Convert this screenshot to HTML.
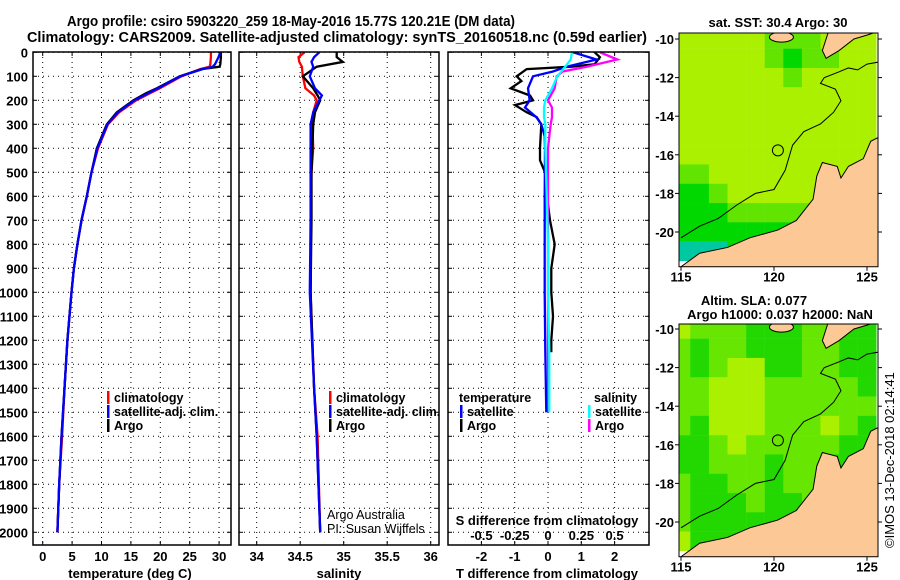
<!DOCTYPE html>
<html><head><meta charset="utf-8"><style>
body{margin:0;background:#fff;}
svg{display:block;font-family:"Liberation Sans",sans-serif;}
.t{font-size:13px;font-weight:bold;fill:#000;}
.ttl{font-size:14.5px;font-weight:bold;fill:#000;}
.lg{font-size:12.5px;font-weight:bold;fill:#000;}
.grid{stroke:#000;stroke-width:1;stroke-dasharray:1,4;fill:none;}
</style></head><body>
<svg id="fig" width="900" height="580" viewBox="0 0 900 580">
<text class="ttl" x="67" y="26" textLength="448" lengthAdjust="spacingAndGlyphs">Argo profile: csiro 5903220_259 18-May-2016 15.77S 120.21E (DM data)</text>
<text class="ttl" x="27" y="42" textLength="620" lengthAdjust="spacingAndGlyphs">Climatology: CARS2009. Satellite-adjusted climatology: synTS_20160518.nc (0.59d earlier)</text>
<g id="g1"></g>
<g id="g2"></g>
<g id="g3"></g>
<g id="m1"></g>
<g id="m2"></g>
<text class="lg" transform="translate(894,548) rotate(-90)" style="font-weight:normal;font-size:13px">©IMOS 13-Dec-2018 02:14:41</text>
</svg>
<script>
// ---------- data ----------
const depthT = [0,20,50,60,70,100,150,170,200,250,300,400,500,600,700,800,900,1000,1200,1400,1600,1800,2000];
const tempArgo = [30.3,30.3,30.2,30.1,27.0,23.3,19.4,17.6,15.4,12.6,10.9,9.2,8.3,7.5,6.6,5.9,5.3,4.9,4.2,3.7,3.2,2.8,2.5];
const tempClim = [28.6,28.6,28.5,28.4,26.8,23.6,19.9,18.3,15.9,13.0,11.1,9.4,8.3,7.5,6.6,5.9,5.3,4.9,4.2,3.7,3.3,2.8,2.5];
const tempSat  = [30.2,29.9,29.3,28.9,27.2,23.4,19.6,18.0,15.6,12.8,11.0,9.3,8.3,7.5,6.6,5.9,5.3,4.9,4.2,3.7,3.2,2.8,2.5];
const depthS = [0,20,40,60,100,150,180,200,250,300,400,500,700,1000,1400,1600,2000];
const salArgo = [34.92,34.92,34.99,34.69,34.53,34.65,34.70,34.73,34.67,34.65,34.64,34.63,34.63,34.62,34.66,34.69,34.73];
const salClim = [34.55,34.48,34.49,34.52,34.53,34.56,34.66,34.69,34.65,34.64,34.65,34.63,34.62,34.62,34.66,34.70,34.73];
const salSat  = [34.72,34.66,34.63,34.65,34.61,34.67,34.75,34.72,34.65,34.62,34.62,34.62,34.62,34.61,34.66,34.69,34.73];
const depthD = [0,20,50,60,70,100,120,150,180,200,220,250,270,300,400,450,500,600,700,800,900,1000,1100,1200,1250];
const dTArgo = [1.4,1.56,1.4,0.7,-0.64,-0.94,-0.8,-1.12,-0.54,-0.45,-0.99,-0.64,-0.34,-0.2,-0.24,-0.24,-0.09,-0.03,0.06,0.2,0.1,0.1,0.15,0.1,0.1];
const depthD2 = [0,30,60,80,100,150,200,230,270,300,350,400,600,800,1000,1250,1500];
const dTSat = [0.75,1.46,0.56,0.15,-0.45,-0.6,-0.55,-0.69,-0.35,-0.2,-0.1,-0.09,-0.1,-0.1,-0.1,-0.08,-0.05];
const dSArgo = [0.39,0.52,0.29,0.11,0.065,0.05,0.0,0.03,0.03,0.02,0.01,0.0,0.0,0.0,0.0,0.0,0.0];
const dSSat = [0.18,0.17,0.13,0.1,0.07,0.03,-0.02,-0.03,-0.03,-0.02,-0.02,-0.02,-0.01,0.0,0.0,0.01,0.01];
const depthTicks = [0,100,200,300,400,500,600,700,800,900,1000,1100,1200,1300,1400,1500,1600,1700,1800,1900,2000];
const tTicks = [0,5,10,15,20,25,30];
const sTicks = [34,34.5,35,35.5,36];
const sTickLabels = ["34","34.5","35","35.5","36"];
const dTTicks = [-2,-1,0,1,2];
const dSTicks = [-0.5,-0.25,0,0.25,0.5];
const dSTickLabels = ["-0.5","-0.25","0","0.25","0.5"];
const lonTicks = [115,120,125];
const latTicks = [-10,-12,-14,-16,-18,-20];
const sstGrid = [
[0,0,0,0,0,1,1,1,0,0,0],
[0,0,0,0,0,1,2,1,1,0,0],
[0,0,0,0,0,0,1,0,0,0,0],
[0,0,0,0,0,0,0,0,0,0,0],
[0,0,0,0,0,0,0,0,0,0,0],
[0,0,0,0,0,0,0,0,0,0,0],
[0,0,0,0,0,0,0,0,0,0,0],
[1,1,0,0,0,0,0,0,0,0,0],
[2,2,1,0,0,0,0,0,0,0,0],
[2,2,2,1,1,1,1,1,0,0,0],
[2,2,2,2,2,2,2,3,0,0,0],
[3,3,3,2,2,4,0,0,0,0,0]];
const slaGrid = [
[0,1,1,1,2,2,2,1,1,2,2],
[1,2,1,1,2,2,2,1,1,2,2],
[1,2,1,0,0,2,2,1,1,2,2],
[1,1,0,0,0,1,1,1,1,1,2],
[1,1,0,0,0,1,1,1,1,1,1],
[1,2,0,0,0,1,1,1,0,1,2],
[2,2,1,0,1,1,1,1,1,2,2],
[2,2,1,1,1,2,1,1,2,2,2],
[1,2,2,1,1,2,1,1,2,2,2],
[1,2,2,2,1,2,2,1,2,2,2],
[1,2,2,2,2,2,2,2,2,2,2],
[0,2,2,2,2,2,2,2,2,2,2]];
const landLon = [115.0,116.0,117.5,118.7,120.2,121.2,122.1,122.3,122.6,123.4,123.6,124.0,124.8,125.2,125.6,125.6,115.0];
const landLat = [-21.8,-21.1,-20.8,-20.3,-19.9,-19.4,-18.3,-17.1,-16.4,-16.6,-17.2,-16.6,-16.2,-15.3,-15.1,-22.5,-22.5];
const isoLon = [115,116,117,118,119,120,120.6,121,121.6,122.5,123.2,123.6,123.3,122.5,122.7,123.5,124,124.5,125,125.6];
const isoLat = [-20.3,-19.7,-19.3,-18.6,-18.0,-17.8,-16.8,-15.5,-14.8,-14.4,-13.8,-13.2,-12.6,-12.3,-12.0,-11.7,-11.5,-11.6,-11.3,-11.2];
const argoLon = 120.21, argoLat = -15.77;

// ---------- helpers ----------
const NS='http://www.w3.org/2000/svg';
function mk(parent,tag,attrs){const e=document.createElementNS(NS,tag);for(const k in attrs)e.setAttribute(k,attrs[k]);parent.appendChild(e);return e;}
function txt(parent,x,y,s,anchor,cls){const e=mk(parent,'text',{x:x,y:y,'text-anchor':anchor||'middle','class':cls||'t'});e.textContent=s;return e;}
const pTop=52, pBot=545;
const yD = d => 52.3 + d*0.24;
const xT = t => 42.7 + t*5.88;
const xS = s => 256.7 + (s-34)*87;
const xDT = d => 548 + d*33.3;
const xDS = d => 548 + d*133.2;

function frame(g,x0,x1){
  for(const d of depthTicks){const l=mk(g,'line',{x1:x0,x2:x1,y1:yD(d),y2:yD(d),'class':'grid'});
    
    
    mk(g,'line',{x1:x0,x2:x0+4,y1:yD(d),y2:yD(d),stroke:'#000'});mk(g,'line',{x1:x1-4,x2:x1,y1:yD(d),y2:yD(d),stroke:'#000'});}
}
function vgrid(g,xs,fx){for(const v of xs){const x=fx(v);const l=mk(g,'line',{x1:x,x2:x,y1:pTop,y2:pBot,'class':'grid'});
  
  
  mk(g,'line',{x1:x,x2:x,y1:pTop,y2:pTop+4,stroke:'#000'});mk(g,'line',{x1:x,x2:x,y1:pBot-4,y2:pBot,stroke:'#000'});}}
function box(g,x0,x1){const r=mk(g,'rect',{x:x0,y:pTop,width:x1-x0,height:pBot-pTop,fill:'none',stroke:'#000','stroke-width':1.5});
  
  }
function line(g,xs,ds,fx,color,name){const pts=xs.map((v,i)=>fx(v).toFixed(1)+','+yD(ds[i]).toFixed(1)).join(' ');
  const p=mk(g,'polyline',{points:pts,fill:'none',stroke:color,'stroke-width':2.3});
  
  }
function legend(g,x,y,color,label){mk(g,'rect',{x:x,y:y-11,width:2.5,height:13,fill:color});
  const t=txt(g,x+7,y,label,'start','lg');
  
  }
function lab(g,x,y,s,name,anchor,cls){const t=txt(g,x,y,s,anchor,cls);
  
  return t;}

// ---------- panel 1 ----------
const g1=document.getElementById('g1');
frame(g1,33,231);vgrid(g1,tTicks,xT);
for(const d of depthTicks) lab(g1,28,yD(d)+5,String(d),'y-tick-label','end');
for(const v of tTicks) lab(g1,xT(v),561,String(v),'x-tick-label');
line(g1,tempClim,depthT,xT,'#f00','temperature-climatology-line');
line(g1,tempArgo,depthT,xT,'#000','temperature-argo-line');
line(g1,tempSat,depthT,xT,'#00f','temperature-satellite-line');
legend(g1,107,402,'#f00','climatology');legend(g1,107,416,'#00f','satellite-adj. clim.');legend(g1,107,430,'#000','Argo');
box(g1,33,231);
lab(g1,130,578,'temperature (deg C)','x-axis-title');

// ---------- panel 2 ----------
const g2=document.getElementById('g2');
frame(g2,239,439);vgrid(g2,sTicks,xS);
sTicks.forEach((v,i)=>lab(g2,xS(v),561,sTickLabels[i],'x-tick-label'));
line(g2,salClim,depthS,xS,'#f00','salinity-climatology-line');
line(g2,salArgo,depthS,xS,'#000','salinity-argo-line');
line(g2,salSat,depthS,xS,'#00f','salinity-satellite-line');
legend(g2,329,402,'#f00','climatology');legend(g2,329,416,'#00f','satellite-adj. clim.');legend(g2,329,430,'#000','Argo');
lab(g2,327,519,'Argo Australia','credit-text','start','lg').style.fontWeight='normal';
lab(g2,327,533,'PI: Susan Wijffels','pi-text','start','lg').style.fontWeight='normal';
box(g2,239,439);
lab(g2,339,578,'salinity','x-axis-title');

// ---------- panel 3 ----------
const g3=document.getElementById('g3');
frame(g3,448,649);vgrid(g3,dTTicks,xDT);
dTTicks.forEach(v=>lab(g3,xDT(v),561,String(v),'t-diff-tick-label'));
dSTicks.forEach((v,i)=>lab(g3,xDS(v),540,dSTickLabels[i],'s-diff-tick-label'));
lab(g3,547,525,'S difference from climatology','s-diff-axis-title');
line(g3,dTArgo,depthD,xDT,'#000','t-diff-argo-line');
line(g3,dSArgo,depthD2,xDS,'#f0f','s-diff-argo-line');
line(g3,dTSat,depthD2,xDT,'#00f','t-diff-satellite-line');
line(g3,dSSat,depthD2,xDS,'#0ff','s-diff-satellite-line');
lab(g3,459,402,'temperature','legend-title-temperature','start','lg');
lab(g3,594,402,'salinity','legend-title-salinity','start','lg');
legend(g3,460,416,'#00f','satellite');legend(g3,460,430,'#000','Argo');
legend(g3,588,416,'#0ff','satellite');legend(g3,588,430,'#f0f','Argo');
box(g3,448,649);
lab(g3,547,578,'T difference from climatology','x-axis-title');

// ---------- maps ----------
function map(gid,yTop,lat10Y,grid,pal,titles){
  const g=document.getElementById(gid);
  const X=lon=>681+(lon-115)*18.6, Y=lat=>lat10Y+(-10-lat)*19.3;
  const x0=679,x1=878,y0=yTop,y1=Y(-21.8);
  const cid='clip'+gid;const cp=mk(mk(g,'defs',{}),'clipPath',{id:cid});mk(cp,'rect',{x:x0,y:y0,width:x1-x0,height:y1-y0});
  const cg=mk(g,'g',{'clip-path':'url(#'+cid+')'});
  grid.forEach((row,j)=>row.forEach((v,i)=>{const lon=115+i,lat=-10-j;
    const r=mk(cg,'rect',{x:X(lon-0.5),y:Y(lat+0.5),width:18.8,height:19.5,fill:pal[v]});
    
    }));
  const lp=mk(cg,'polygon',{points:landLon.map((v,i)=>X(v)+','+Y(landLat[i])).join(' '),fill:'#fcc896',stroke:'#000','stroke-width':1});
  
  
  const is1=mk(cg,'ellipse',{cx:X(120.4),cy:Y(-9.9),rx:12,ry:5,fill:'#fcc896',stroke:'#000'});
  
  
  const is2=mk(cg,'polygon',{points:[[122.8,-11.0],[123.5,-10.6],[124.3,-10.0],[125.0,-9.8],[125.6,-9.6],[125.6,-9.4],[123.0,-9.4],[122.6,-10.6]].map(p=>X(p[0])+','+Y(p[1])).join(' '),fill:'#fcc896',stroke:'#000'});
  
  
  const iso=mk(cg,'polyline',{points:isoLon.map((v,i)=>X(v)+','+Y(isoLat[i])).join(' '),fill:'none',stroke:'#000','stroke-width':1});
  
  
  const c=mk(g,'circle',{cx:X(argoLon),cy:Y(argoLat),r:5.5,fill:'none',stroke:'#000','stroke-width':1});
  
  
  const b=mk(g,'rect',{x:x0,y:y0,width:x1-x0,height:y1-y0,fill:'none',stroke:'#000','stroke-width':1});
  
  
  for(const la of latTicks){mk(g,'line',{x1:x0-4,x2:x0,y1:Y(la),y2:Y(la),stroke:'#000'});mk(g,'line',{x1:x1,x2:x1+4,y1:Y(la),y2:Y(la),stroke:'#000'});
    lab(g,x0-5,Y(la)+5,String(la),'lat-tick-label','end');}
  for(const lo of lonTicks){mk(g,'line',{x1:X(lo),x2:X(lo),y1:y1,y2:y1+4,stroke:'#000'});
    lab(g,X(lo),y1+15,String(lo),'lon-tick-label');}
  titles.forEach(tt=>lab(g,tt[0],tt[1],tt[2],'map-title'));
}
map('m1',33,39,sstGrid,['#aaf000','#60e400','#00d800','#00c8a0','#1010f0'],[[778,27,'sat. SST: 30.4 Argo: 30']]);
map('m2',324,329,slaGrid,['#aaf000','#66e600','#22d800'],[[754,305,'Altim. SLA: 0.077'],[780,319,'Argo h1000: 0.037 h2000: NaN']]);
</script>
</body></html>
